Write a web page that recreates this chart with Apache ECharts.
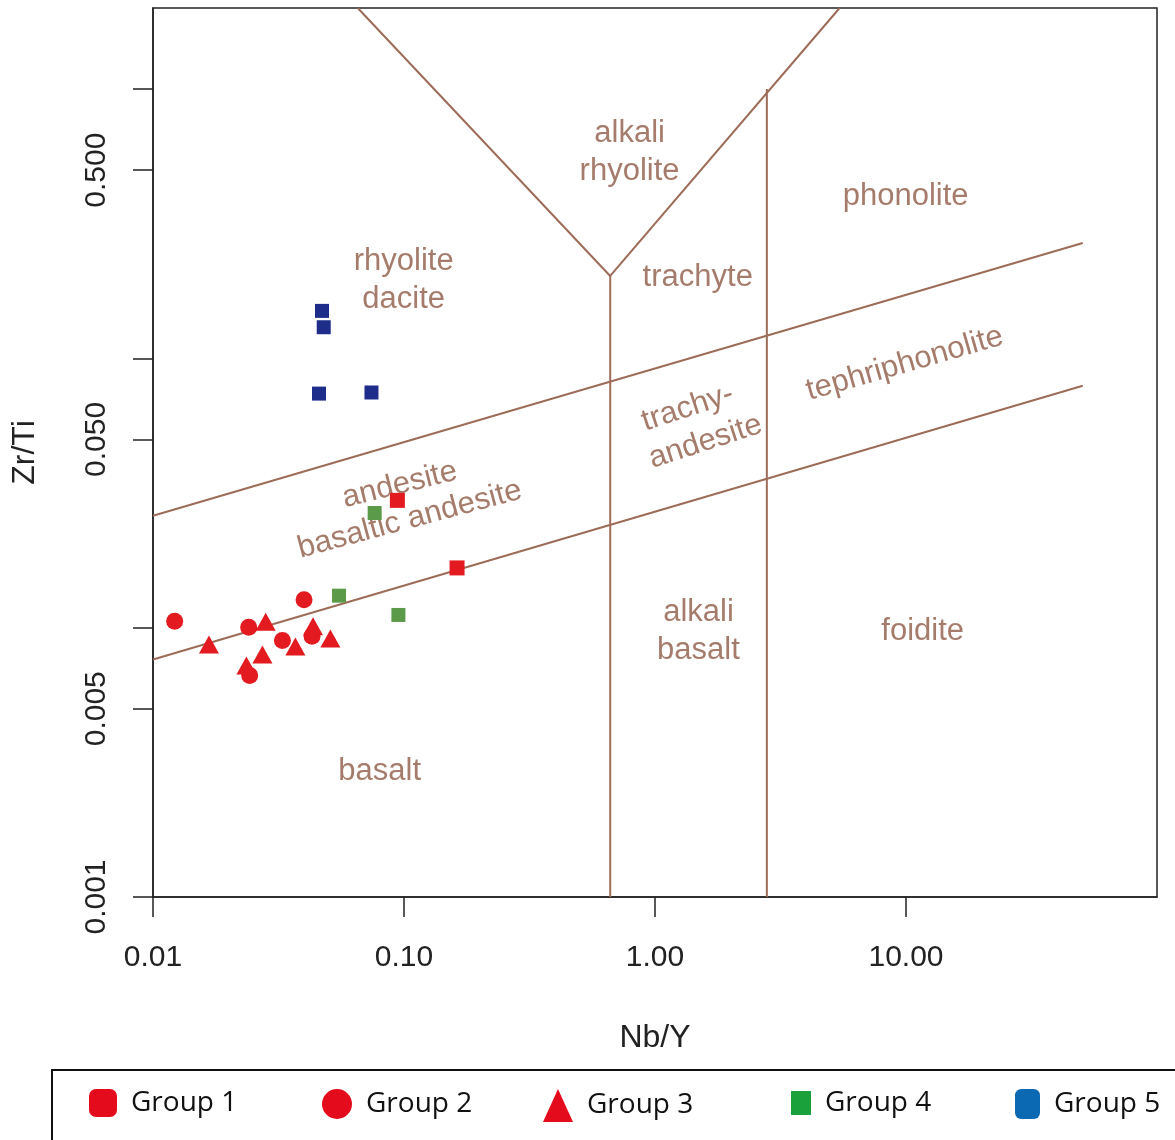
<!DOCTYPE html>
<html>
<head>
<meta charset="utf-8">
<title>Zr/Ti vs Nb/Y</title>
<script src="https://cdn.jsdelivr.net/npm/echarts@6/dist/echarts.min.js"></script>
<style>
  html, body { margin: 0; padding: 0; background: #fff; }
  #chart { width: 1175px; height: 1140px; }
</style>
</head>
<body>
<div id="chart"></div>
<script>
// samples as [Nb/Y, Zr/Ti]
const group1 = [[0.0941, 0.0297], [0.1627, 0.01667]];
const group2 = [[0.0122, 0.01057], [0.02406, 0.01003], [0.02428, 0.00664],
                [0.03278, 0.00896], [0.03997, 0.01271], [0.04301, 0.00929]];
const group3 = [[0.01671, 0.00866], [0.02812, 0.01053], [0.02729, 0.00795],
                [0.02356, 0.00724], [0.03693, 0.00851], [0.04341, 0.01012],
                [0.0509, 0.00911]];
const group4 = [[0.0764, 0.02666], [0.0551, 0.01315], [0.095, 0.01115]];
const group5 = [[0.04714, 0.1501], [0.04788, 0.1305], [0.04586, 0.074], [0.0742, 0.0747]];

// field boundaries
const boundaries = [
  [[0.0654, 2], [0.663, 0.2023]],
  [[0.663, 0.2023], [5.44, 2]],
  [[0.663, 0.2023], [0.663, 0.001]],
  [[2.79, 1.0], [2.79, 0.001]],
  [[0.01, 0.02604], [50.6, 0.268]],
  [[0.01, 0.00762], [50.6, 0.0791]]
];

// field names: [Nb/Y, Zr/Ti, text, rotation]
const fieldNames = [
  [0.792, 0.58, 'alkali\nrhyolite', 0],
  [9.97, 0.398, 'phonolite', 0],
  [0.0997, 0.194, 'rhyolite\ndacite', 0],
  [1.48, 0.2, 'trachyte', 0],
  [1.35, 0.0655, 'trachy-', 18],
  [1.59, 0.049, 'andesite', 18],
  [9.88, 0.0955, 'tephriphonolite', 16],
  [0.0962, 0.0339, 'andesite', 14],
  [0.1054, 0.0252, 'basaltic andesite', 15],
  [1.49, 0.0097, 'alkali\nbasalt', 0],
  [11.65, 0.0097, 'foidite', 0],
  [0.08, 0.00292, 'basalt', 0]
];

const xTicks = [0.01, 0.1, 1, 10];
const yTicks = [0.001, 0.005, 0.01, 0.05, 0.1, 0.5, 1];
const yLabels = [0.001, 0.005, 0.05, 0.5];

const lineColor = '#9d6c58';
const textColor = '#8f5b46';
const axisColor = '#222';
const font = '"Liberation Sans", Arial, Helvetica, sans-serif';

const chart = echarts.init(document.getElementById('chart'));

const series = [];
boundaries.forEach((seg) => {
  series.push({
    type: 'line',
    data: seg,
    showSymbol: false,
    silent: true,
    z: 1,
    lineStyle: { color: lineColor, width: 2 }
  });
});

series.push({
  type: 'scatter',
  silent: true,
  z: 2,
  symbolSize: 1,
  itemStyle: { color: 'rgba(0,0,0,0)' },
  data: fieldNames.map((f) => ({
    value: [f[0], f[1]],
    label: { rotate: f[3] }
  })),
  label: {
    show: true,
    position: 'inside',
    formatter: (p) => fieldNames[p.dataIndex][2],
    color: textColor,
    fontFamily: font,
    fontSize: 31,
    lineHeight: 38,
    align: 'center',
    verticalAlign: 'middle'
  }
});

const points = [
  { name: 'Group 1', data: group1, symbol: 'rect', size: 15, color: '#e31a1f' },
  { name: 'Group 2', data: group2, symbol: 'circle', size: 17, color: '#e31a1f' },
  { name: 'Group 3', data: group3, symbol: 'triangle', size: [20, 18], color: '#e31a1f' },
  { name: 'Group 4', data: group4, symbol: 'rect', size: 14, color: '#5a9a48' },
  { name: 'Group 5', data: group5, symbol: 'rect', size: 14, color: '#1f2d8a' }
];
points.forEach((g) => {
  series.push({
    name: g.name,
    type: 'scatter',
    data: g.data,
    symbol: g.symbol,
    symbolSize: g.size,
    z: 3,
    itemStyle: { color: g.color, opacity: 1 }
  });
});

// legend entries sit in their own slots
const legendItems = [
  { name: 'Group 1', icon: 'roundRect', color: '#e30b1c', left: 89, w: 28, h: 28 },
  { name: 'Group 2', icon: 'circle', color: '#e30b1c', left: 322, w: 30, h: 30 },
  { name: 'Group 3', icon: 'triangle', color: '#e30b1c', left: 543, w: 30, h: 33 },
  { name: 'Group 4', icon: 'rect', color: '#1aa13b', left: 791, w: 20, h: 24 },
  { name: 'Group 5', icon: 'roundRect', color: '#0b69b3', left: 1015, w: 25, h: 30 }
];
const legend = legendItems.map((it) => ({
  left: it.left,
  top: 1089,
  padding: 0,
  itemWidth: it.w,
  itemHeight: it.h,
  selectedMode: false,
  data: [{ name: it.name, icon: it.icon, itemStyle: { color: it.color } }],
  textStyle: {
    fontFamily: '"Open Sans", sans-serif',
    fontSize: 28,
    color: '#111',
    padding: [0, 0, 0, 9]
  }
}));

chart.setOption({
  animation: false,
  backgroundColor: '#fff',
  grid: {
    left: 153,
    right: 18,
    top: 8,
    bottom: 243,
    outerBoundsMode: 'none',
    show: true,
    borderColor: axisColor,
    borderWidth: 1.5
  },
  legend: legend,
  graphic: [{
    type: 'rect',
    shape: { x: 52, y: 1070, width: 1140, height: 90 },
    style: { fill: 'none', stroke: '#111', lineWidth: 2 },
    silent: true
  }],
  xAxis: {
    type: 'log',
    logBase: 10,
    min: 0.01,
    max: 100,
    name: 'Nb/Y',
    nameLocation: 'middle',
    nameGap: 125,
    nameTextStyle: { fontFamily: font, fontSize: 32, color: axisColor },
    axisLine: { show: true, lineStyle: { color: axisColor, width: 1.5 } },
    axisTick: { show: true, length: 20, customValues: xTicks, lineStyle: { color: axisColor, width: 1.5 } },
    axisLabel: {
      customValues: xTicks,
      formatter: (v) => Number(v).toFixed(2),
      fontFamily: font,
      fontSize: 30,
      color: axisColor,
      margin: 46
    },
    splitLine: { show: false },
    minorTick: { show: false }
  },
  yAxis: {
    type: 'log',
    logBase: 10,
    min: 0.001,
    max: 2,
    name: 'Zr/Ti',
    nameLocation: 'middle',
    nameGap: 112,
    nameTextStyle: { fontFamily: font, fontSize: 32, color: axisColor },
    axisLine: { show: true, lineStyle: { color: axisColor, width: 1.5 } },
    axisTick: { show: true, length: 20, customValues: yTicks, lineStyle: { color: axisColor, width: 1.5 } },
    axisLabel: {
      customValues: yLabels,
      formatter: (v) => Number(v).toFixed(3),
      rotate: 90,
      fontFamily: font,
      fontSize: 30,
      color: axisColor,
      margin: 41
    },
    splitLine: { show: false },
    minorTick: { show: false }
  },
  series: series
});
</script>
</body>
</html>
